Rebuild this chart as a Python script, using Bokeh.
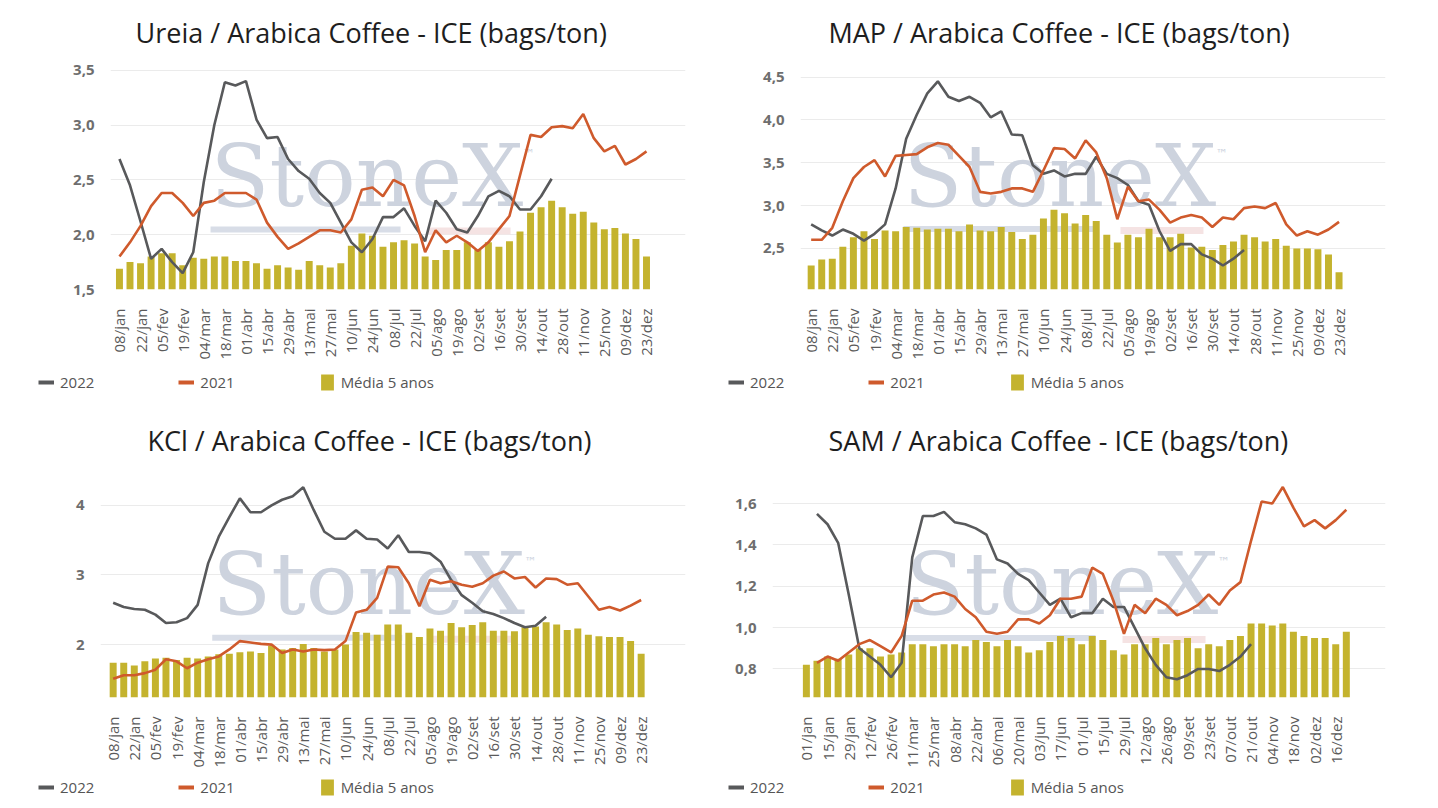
import math
from bokeh.plotting import figure
from bokeh.layouts import column, row
from bokeh.models import FixedTicker, Legend, LegendItem, Range1d
from bokeh.core.properties import value
from bokeh.embed import file_html
from bokeh.resources import INLINE

NAN = float("nan")

# rótulos do eixo x (uma a cada duas semanas)
semanas_a = ["08/jan", "22/jan", "05/fev", "19/fev", "04/mar", "18/mar", "01/abr", "15/abr",
             "29/abr", "13/mai", "27/mai", "10/jun", "24/jun", "08/jul", "22/jul", "05/ago",
             "19/ago", "02/set", "16/set", "30/set", "14/out", "28/out", "11/nov", "25/nov",
             "09/dez", "23/dez"]
semanas_b = ["01/jan", "15/jan", "29/jan", "12/fev", "26/fev", "11/mar", "25/mar", "08/abr",
             "22/abr", "06/mai", "20/mai", "03/jun", "17/jun", "01/jul", "15/jul", "29/jul",
             "12/ago", "26/ago", "09/set", "23/set", "07/out", "21/out", "04/nov", "18/nov",
             "02/dez", "16/dez"]

# Ureia / Arabica
ureia_media = [1.69, 1.75, 1.74, 1.80, 1.83, 1.83, 1.72, 1.79, 1.78, 1.80, 1.80, 1.76, 1.76,
               1.74, 1.69, 1.72, 1.70, 1.68, 1.76, 1.72, 1.70, 1.74, 1.90, 2.01, 1.99, 1.89,
               1.93, 1.95, 1.92, 1.80, 1.77, 1.86, 1.86, 1.93, 1.86, 1.93, 1.89, 1.94, 2.03,
               2.20, 2.25, 2.31, 2.25, 2.19, 2.21, 2.11, 2.05, 2.06, 2.01, 1.96, 1.80]
ureia_2022 = [2.69, 2.45, 2.12, 1.78, 1.87, 1.75, 1.65, 1.84, 2.48, 3.00, 3.39, 3.36, 3.40,
              3.05, 2.88, 2.89, 2.69, 2.58, 2.51, 2.38, 2.29, 2.11, 1.93, 1.84, 1.96, 2.16,
              2.16, 2.24, 2.08, 1.94, 2.31, 2.20, 2.05, 2.02, 2.17, 2.35, 2.40, 2.35, 2.23,
              2.23, 2.35, 2.51]
ureia_2021 = [1.80, 1.93, 2.08, 2.26, 2.38, 2.38, 2.29, 2.17, 2.29, 2.31, 2.38, 2.38, 2.38,
              2.32, 2.11, 1.98, 1.87, 1.92, 1.98, 2.04, 2.04, 2.02, 2.14, 2.41, 2.43, 2.35,
              2.50, 2.45, 2.17, 1.84, 2.04, 1.93, 1.99, 1.93, 1.85, 1.93, 2.05, 2.17, 2.54,
              2.91, 2.89, 2.98, 2.99, 2.97, 3.10, 2.88, 2.76, 2.81, 2.64, 2.69, 2.76]

# MAP / Arabica
map_media = [2.30, 2.37, 2.38, 2.52, 2.63, 2.70, 2.61, 2.71, 2.70, 2.75, 2.74, 2.72, 2.73,
             2.73, 2.70, 2.78, 2.71, 2.70, 2.75, 2.69, 2.61, 2.66, 2.85, 2.95, 2.91, 2.79,
             2.89, 2.82, 2.66, 2.57, 2.66, 2.63, 2.73, 2.63, 2.63, 2.67, 2.51, 2.52, 2.48,
             2.54, 2.58, 2.66, 2.63, 2.58, 2.61, 2.53, 2.50, 2.50, 2.49, 2.43, 2.22]
map_2022 = [2.78, 2.71, 2.65, 2.72, 2.67, 2.59, 2.67, 2.78, 3.20, 3.78, 4.06, 4.31, 4.45,
            4.27, 4.22, 4.27, 4.20, 4.03, 4.10, 3.83, 3.82, 3.47, 3.37, 3.41, 3.34, 3.37,
            3.37, 3.57, 3.37, 3.32, 3.24, 3.05, 3.01, 2.70, 2.47, 2.55, 2.55, 2.43, 2.38,
            2.30, 2.38, 2.48]
map_2021 = [2.60, 2.60, 2.74, 3.05, 3.32, 3.45, 3.53, 3.34, 3.58, 3.59, 3.60, 3.68, 3.73,
            3.71, 3.58, 3.45, 3.16, 3.14, 3.16, 3.20, 3.20, 3.16, 3.41, 3.67, 3.66, 3.55,
            3.76, 3.62, 3.32, 2.84, 3.22, 3.05, 3.07, 2.95, 2.80, 2.86, 2.89, 2.86, 2.75,
            2.86, 2.84, 2.97, 2.99, 2.97, 3.03, 2.78, 2.65, 2.70, 2.66, 2.72, 2.81]

# KCl / Arabica
kcl_media = [1.74, 1.74, 1.70, 1.76, 1.80, 1.81, 1.78, 1.81, 1.80, 1.83, 1.86, 1.87, 1.89,
             1.90, 1.88, 1.98, 1.93, 1.95, 2.01, 1.95, 1.90, 1.93, 2.00, 2.18, 2.17, 2.14,
             2.29, 2.29, 2.17, 2.11, 2.23, 2.20, 2.31, 2.25, 2.28, 2.32, 2.20, 2.20, 2.19,
             2.25, 2.26, 2.32, 2.29, 2.21, 2.23, 2.14, 2.12, 2.11, 2.11, 2.05, 1.87]
kcl_2022 = [2.60, 2.54, 2.51, 2.50, 2.43, 2.31, 2.32, 2.38, 2.57, 3.17, 3.55, 3.83, 4.10,
            3.90, 3.90, 4.00, 4.08, 4.13, 4.26, 3.93, 3.62, 3.52, 3.52, 3.64, 3.52, 3.51,
            3.38, 3.57, 3.33, 3.33, 3.31, 3.19, 2.93, 2.71, 2.60, 2.48, 2.44, 2.38, 2.31,
            2.25, 2.27, 2.40]
kcl_2021 = [1.51, 1.56, 1.56, 1.59, 1.64, 1.79, 1.76, 1.66, 1.74, 1.79, 1.83, 1.93, 2.05,
            2.03, 2.01, 2.00, 1.88, 1.93, 1.90, 1.93, 1.92, 1.93, 2.05, 2.46, 2.50, 2.67,
            3.12, 3.11, 2.88, 2.55, 2.93, 2.88, 2.91, 2.86, 2.83, 2.88, 2.99, 3.05, 2.95,
            2.97, 2.82, 2.95, 2.94, 2.86, 2.88, 2.69, 2.50, 2.54, 2.49, 2.56, 2.64]

# SAM / Arabica
sam_media = [0.82, 0.84, 0.86, 0.85, 0.87, 0.90, 0.90, 0.86, 0.87, 0.88, 0.92, 0.92, 0.91,
             0.92, 0.92, 0.91, 0.94, 0.93, 0.91, 0.94, 0.91, 0.88, 0.89, 0.93, 0.96, 0.95,
             0.92, 0.96, 0.94, 0.89, 0.87, 0.92, 0.92, 0.95, 0.92, 0.94, 0.95, 0.90, 0.92,
             0.91, 0.94, 0.96, 1.02, 1.02, 1.01, 1.02, 0.98, 0.96, 0.95, 0.95, 0.92, 0.98]
sam_2022 = [NAN, 1.55, 1.50, 1.41, 1.16, 0.90, 0.86, 0.82, 0.76, 0.83, 1.34, 1.54, 1.54,
            1.56, 1.51, 1.50, 1.48, 1.45, 1.33, 1.31, 1.26, 1.23, 1.17, 1.11, 1.14, 1.05,
            1.07, 1.07, 1.14, 1.10, 1.10, 1.00, 0.90, 0.82, 0.76, 0.75, 0.77, 0.80, 0.80,
            0.79, 0.82, 0.86, 0.92]
sam_2021 = [NAN, 0.83, 0.86, 0.84, 0.88, 0.92, 0.94, 0.91, 0.88, 0.96, 1.13, 1.13, 1.16,
            1.17, 1.15, 1.09, 1.05, 0.98, 0.97, 0.98, 1.04, 1.04, 1.02, 1.06, 1.14, 1.14,
            1.15, 1.29, 1.26, 1.13, 0.97, 1.11, 1.07, 1.14, 1.11, 1.06, 1.08, 1.11, 1.16,
            1.11, 1.18, 1.22, 1.42, 1.61, 1.60, 1.68, 1.58, 1.49, 1.52, 1.48, 1.52, 1.57]

COR_2022 = "#58595b"
COR_2021 = "#cf5a2c"
COR_MEDIA = "#c4b32e"
FONTE = "Open Sans"
LARGURA = 710


def painel(titulo, media, s2022, s2021, rotulos, yticks, ylim, xlim, bordas, altura,
           titulo_dx, marca_fx, decimais=1):
    esq, dir_, topo, base = bordas
    fw = LARGURA - esq - dir_
    fh = altura - topo - base
    p = figure(width=LARGURA, height=altura, x_range=Range1d(*xlim), y_range=Range1d(*ylim),
               output_backend="svg", toolbar_location=None, tools="",
               min_border_left=esq, min_border_right=dir_,
               min_border_top=topo, min_border_bottom=base)
    p.outline_line_color = None
    p.xgrid.grid_line_color = None
    p.ygrid.grid_line_color = "#ebebeb"

    # marca d'água "StoneX"
    px_x = (xlim[1] - xlim[0]) / fw
    px_y = (ylim[1] - ylim[0]) / fh
    mx = xlim[0] + marca_fx * (xlim[1] - xlim[0])
    my = ylim[0] + 0.5 * (ylim[1] - ylim[0])
    p.quad(left=[mx], right=[mx + 190 * px_x], bottom=[my - 57 * px_y], top=[my - 51 * px_y],
           fill_color="#d8dde7", line_color=None)
    p.quad(left=[mx + 217 * px_x], right=[mx + 300 * px_x], bottom=[my - 59 * px_y],
           top=[my - 52 * px_y], fill_color="#f5e3e3", line_color=None)
    p.text(x=[mx], y=[my], text=["StoneX"], text_font=value("DejaVu Serif"),
           text_font_size="86px", text_color="#cdd3de", text_baseline="middle")
    p.text(x=[mx + 312 * px_x], y=[my + 22 * px_y], text=["™"], text_font=value("DejaVu Sans"),
           text_font_size="12px", text_color="#cdd3de", text_baseline="middle")

    n = len(media)
    p.vbar(x=list(range(n)), top=media, bottom=ylim[0], width=0.66,
           fill_color=COR_MEDIA, line_color=None)
    p.line(list(range(len(s2022))), s2022, line_color=COR_2022, line_width=2.6)
    p.line(list(range(len(s2021))), s2021, line_color=COR_2021, line_width=2.6)

    p.title.text = titulo
    p.title.align = "left"
    p.title.offset = titulo_dx
    p.title.standoff = 23
    p.title.text_font = FONTE
    p.title.text_font_size = "27px"
    p.title.text_font_style = "normal"
    p.title.text_color = "#1e1e1e"

    p.yaxis.ticker = FixedTicker(ticks=yticks)
    p.yaxis.major_label_overrides = {t: f"{t:.{decimais}f}".replace(".", ",") for t in yticks}
    p.yaxis.axis_line_color = None
    p.yaxis.major_tick_line_color = None
    p.yaxis.minor_tick_line_color = None
    p.yaxis.major_label_standoff = 10
    p.yaxis.major_label_text_font = FONTE
    p.yaxis.major_label_text_font_size = "15px"
    p.yaxis.major_label_text_font_style = "bold"
    p.yaxis.major_label_text_color = "#6e6e6e"

    ticks_x = list(range(0, 2 * len(rotulos), 2))
    p.xaxis.ticker = FixedTicker(ticks=ticks_x)
    p.xaxis.major_label_overrides = {t: r for t, r in zip(ticks_x, rotulos)}
    p.xaxis.major_label_orientation = math.pi / 2
    p.xaxis.axis_line_color = None
    p.xaxis.major_tick_line_color = None
    p.xaxis.minor_tick_line_color = None
    p.xaxis.major_label_standoff = 13
    p.xaxis.major_label_text_font = FONTE
    p.xaxis.major_label_text_font_size = "15px"
    p.xaxis.major_label_text_color = "#5a5a5a"
    return p


def legenda(altura, x0, y0):
    # faixa própria para a legenda, abaixo do gráfico; as amostras ficam fora do quadro
    q = figure(width=LARGURA, height=altura, x_range=Range1d(0, 1), y_range=Range1d(0, 1),
               output_backend="svg", toolbar_location=None, tools="", min_border=0,
               x_axis_location=None, y_axis_location=None)
    q.outline_line_color = None
    q.grid.grid_line_color = None
    r22 = q.line(x=[5, 6], y=[5, 5], line_color=COR_2022, line_width=4)
    r21 = q.line(x=[5, 6], y=[5, 5], line_color=COR_2021, line_width=4)
    rb = q.vbar(x=[5], top=[5], bottom=4, width=0.5, fill_color=COR_MEDIA, line_color=None)
    leg = Legend(items=[LegendItem(label="2022", renderers=[r22]),
                        LegendItem(label="2021", renderers=[r21]),
                        LegendItem(label="Média 5 anos", renderers=[rb])],
                 orientation="horizontal", location=(x0, y0), spacing=84,
                 padding=2, margin=0, border_line_color=None, background_fill_alpha=0,
                 label_text_font=FONTE, label_text_font_size="15px",
                 label_text_color="#555555", glyph_width=16, glyph_height=20,
                 label_standoff=6)
    q.add_layout(leg, "center")
    return q


p1 = painel("Ureia / Arabica Coffee - ICE (bags/ton)", ureia_media, ureia_2022, ureia_2021,
            semanas_a, [1.5, 2.0, 2.5, 3.0, 3.5], (1.5, 3.57), (-0.85, 53.7),
            (110, 25, 62, 71), 362, 25, 0.174)
p2 = painel("MAP / Arabica Coffee - ICE (bags/ton)", map_media, map_2022, map_2021,
            semanas_a, [2.5, 3.0, 3.5, 4.0, 4.5], (2.02, 4.67), (-1.01, 54.4),
            (90, 35, 62, 69), 362, 28, 0.176)
p3 = painel("KCl / Arabica Coffee - ICE (bags/ton)", kcl_media, kcl_2022, kcl_2021,
            semanas_a, [2, 3, 4], (1.24, 4.5), (-1.2, 54.2),
            (100, 25, 70, 72), 370, 47, 0.191, decimais=0)
p4 = painel("SAM / Arabica Coffee - ICE (bags/ton)", sam_media, sam_2022, sam_2021,
            semanas_b, [0.8, 1.0, 1.2, 1.4, 1.6], (0.662, 1.76), (-3.2, 54.7),
            (62, 35, 70, 73), 370, 56, 0.217)

l1 = legenda(38, 38, 8)
l2 = legenda(38, 18, 8)
l3 = legenda(38, 38, 11)
l4 = legenda(38, 18, 11)

# cada legenda vai numa linha própria para não herdar o alinhamento do quadro
layout = column(row(column(p1, row(l1)), column(p2, row(l2))),
                row(column(p3, row(l3)), column(p4, row(l4))))

with open("out.html", "w") as f:
    f.write(file_html(layout, INLINE))
